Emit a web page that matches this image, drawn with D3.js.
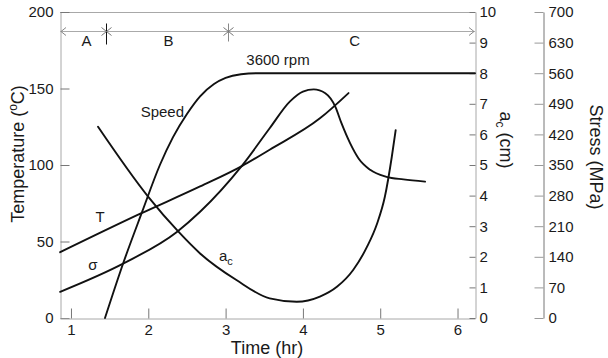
<!DOCTYPE html>
<html>
<head>
<meta charset="utf-8">
<script src="https://cdn.jsdelivr.net/npm/d3@7"></script>
<style>
  html, body { margin: 0; padding: 0; background: #fff; }
  svg { display: block; font-family: "Liberation Sans", Arial, sans-serif; }
  .tick text { fill: #1a1a1a; }
</style>
</head>
<body>
<svg id="chart" width="608" height="358"></svg>
<script>
// Axis ticks
const timeTicks = [1, 2, 3, 4, 5, 6];
const tempTicks = [0, 50, 100, 150, 200];
const crackTicks = [0, 1, 2, 3, 4, 5, 6, 7, 8, 9, 10];
const stressTicks = [0, 70, 140, 210, 280, 350, 420, 490, 560, 630, 700];

// Temperature T (°C) vs time (hr)
const tempTime = [0.86, 1.89, 2.67, 3.21, 3.57, 4.22, 4.59];
const tempValue = [43, 68, 86, 99.3, 110, 130.5, 147];

// Stress σ (MPa) vs time (hr)
const stressTime = [0.86, 1.68, 2.37, 2.67, 3.21, 3.57, 3.83, 4.0, 4.14, 4.29, 4.42, 4.5, 4.61, 4.72, 4.87, 5.08, 5.3, 5.58];
const stressValue = [60, 125, 197, 243, 348, 434, 495, 518, 523, 514, 483, 445, 400, 365, 339, 323, 317, 312];

// Rotor speed (rpm) vs time (hr)
const speedTime = [1.44, 1.68, 1.92, 2.15, 2.32, 2.5, 2.67, 2.85, 3.0, 3.2, 3.4, 6.226];
const speedValue = [0, 820, 1560, 2250, 2660, 3000, 3260, 3440, 3530, 3585, 3600, 3600];

// Critical crack size a_c (cm) vs time (hr)
const crackTime = [1.35, 2.0, 2.39, 2.67, 3.14, 3.57, 3.92, 4.22, 4.44, 4.65, 4.83, 4.96, 5.06, 5.15, 5.2];
const crackValue = [6.25, 3.96, 2.82, 2.11, 1.24, 0.64, 0.53, 0.7, 1.02, 1.57, 2.33, 3.09, 3.96, 5.27, 6.14];

// Operating phases along the time axis
const phaseBounds = [0.858, 1.45, 3.03, 6.226];
const phaseLabels = ["A", "B", "C"];
const phaseLabelTime = [1.2, 2.26, 4.67];

const svg = d3.select("#chart");
const L = 60, R = 475, T = 12, B = 318;
const frameColor = "#a8a8a8";

const x = d3.scaleLinear().domain([0.858, 6.226]).range([L, R]);
const yTemp = d3.scaleLinear().domain([0, 200]).range([B, T]);
const yCrack = d3.scaleLinear().domain([0, 10]).range([B, T]);
const yStress = d3.scaleLinear().domain([0, 700]).range([B, T]);
const ySpeed = d3.scaleLinear().domain([0, 4500]).range([B, T]); // 3600 rpm sits at 8 cm

function styleAxis(g, lineColor, tickColor) {
  g.select(".domain").attr("stroke", lineColor).attr("stroke-width", 1);
  g.selectAll(".tick line").attr("stroke", tickColor).attr("stroke-width", 1);
  g.selectAll(".tick text").attr("font-size", 15);
}

// Top border of the frame
svg.append("line").attr("x1", L).attr("x2", R).attr("y1", T + 0.5).attr("y2", T + 0.5)
  .attr("stroke", frameColor);

// Left: temperature
svg.append("g").attr("transform", `translate(${L + 0.5},0)`)
  .call(d3.axisLeft(yTemp).tickValues(tempTicks).tickSizeInner(-9).tickSizeOuter(0).tickPadding(7))
  .call(g => styleAxis(g, frameColor, "#777"));

// Bottom: time
svg.append("g").attr("transform", `translate(0,${B + 0.5})`)
  .call(d3.axisBottom(x).tickValues(timeTicks).tickFormat(d3.format("d"))
    .tickSizeInner(-10).tickSizeOuter(0).tickPadding(6))
  .call(g => styleAxis(g, frameColor, "#777"));

// Right: critical crack size
svg.append("g").attr("transform", `translate(${R + 0.5},0)`)
  .call(d3.axisRight(yCrack).tickValues(crackTicks).tickSizeInner(-6).tickSizeOuter(0).tickPadding(4))
  .call(g => styleAxis(g, frameColor, "#777"));

// Far right: stress
svg.append("g").attr("transform", `translate(543.5,0)`)
  .call(d3.axisRight(yStress).tickValues(stressTicks).tickSizeInner(-9).tickSizeOuter(0).tickPadding(5))
  .call(g => styleAxis(g, "#777", "#999"));

// Phase bar across the top
const phaseY = 31.5;
const phase = svg.append("g").attr("fill", "none");
phase.append("line").attr("x1", L).attr("x2", R).attr("y1", phaseY).attr("y2", phaseY)
  .attr("stroke", "#aaa");
phase.append("path").attr("d", `M${L + 6},${phaseY - 4}L${L + 1},${phaseY}L${L + 6},${phaseY + 4}`)
  .attr("stroke", "#888");
phase.append("path").attr("d", `M${R - 6},${phaseY - 4}L${R - 1},${phaseY}L${R - 6},${phaseY + 4}`)
  .attr("stroke", "#888");
phaseBounds.slice(1, -1).forEach((t, i) => {
  const px = Math.round(x(t)) + 0.5;
  phase.append("line").attr("x1", px).attr("x2", px)
    .attr("y1", phaseY - 8).attr("y2", phaseY + (i === 0 ? 13 : 10))
    .attr("stroke", i === 0 ? "#111" : "#888");
  phase.append("path")
    .attr("d", `M${px - 5},${phaseY - 4}L${px + 5},${phaseY + 4}M${px - 5},${phaseY + 4}L${px + 5},${phaseY - 4}`)
    .attr("stroke", "#777");
});
svg.append("g").selectAll("text").data(phaseLabels).join("text")
  .attr("x", (d, i) => x(phaseLabelTime[i]))
  .attr("y", 46)
  .attr("text-anchor", "middle").attr("font-size", 15).attr("fill", "#1a1a1a")
  .text(d => d);

// Curves
function drawCurve(ts, vs, yScale) {
  const pts = ts.map((t, i) => [x(t), yScale(vs[i])]);
  svg.append("path")
    .attr("d", d3.line().curve(d3.curveMonotoneX)(pts))
    .attr("fill", "none").attr("stroke", "#111").attr("stroke-width", 1.9)
    .attr("stroke-linecap", "round").attr("stroke-linejoin", "round");
}
drawCurve(tempTime, tempValue, yTemp);
drawCurve(stressTime, stressValue, yStress);
drawCurve(speedTime, speedValue, ySpeed);
drawCurve(crackTime, crackValue, yCrack);

// Curve labels
const lab = svg.append("g").attr("font-size", 15).attr("fill", "#1a1a1a");
lab.append("text").attr("x", 278).attr("y", 65).attr("text-anchor", "middle").text("3600 rpm");
lab.append("text").attr("x", 184).attr("y", 117).attr("text-anchor", "end").text("Speed");
lab.append("text").attr("x", 100).attr("y", 222).attr("text-anchor", "middle").text("T");
lab.append("text").attr("x", 93).attr("y", 270).attr("text-anchor", "middle").text("σ");
const ac = lab.append("text").attr("x", 219).attr("y", 261);
ac.append("tspan").text("a");
ac.append("tspan").attr("font-size", 11).attr("dy", 4).text("c");

// Axis titles
const tt = svg.append("text").attr("font-size", 18).attr("fill", "#1a1a1a")
  .attr("text-anchor", "middle")
  .attr("transform", `translate(24,154) rotate(-90)`);
tt.append("tspan").text("Temperature (");
tt.append("tspan").attr("font-size", 12).attr("dy", -7).text("o");
tt.append("tspan").attr("dy", 7).text("C)");

svg.append("text").attr("x", 267).attr("y", 354).attr("text-anchor", "middle")
  .attr("font-size", 18).attr("fill", "#1a1a1a").text("Time (hr)");

const at = svg.append("text").attr("font-size", 18).attr("fill", "#1a1a1a")
  .attr("text-anchor", "middle")
  .attr("transform", `translate(500,140) rotate(90)`);
at.append("tspan").text("a");
at.append("tspan").attr("font-size", 12).attr("dy", 4).text("c");
at.append("tspan").attr("dy", -4).text(" (cm)");

svg.append("text").attr("font-size", 18).attr("fill", "#1a1a1a")
  .attr("text-anchor", "middle")
  .attr("transform", `translate(590,157) rotate(90)`)
  .text("Stress (MPa)");
</script>
</body>
</html>
